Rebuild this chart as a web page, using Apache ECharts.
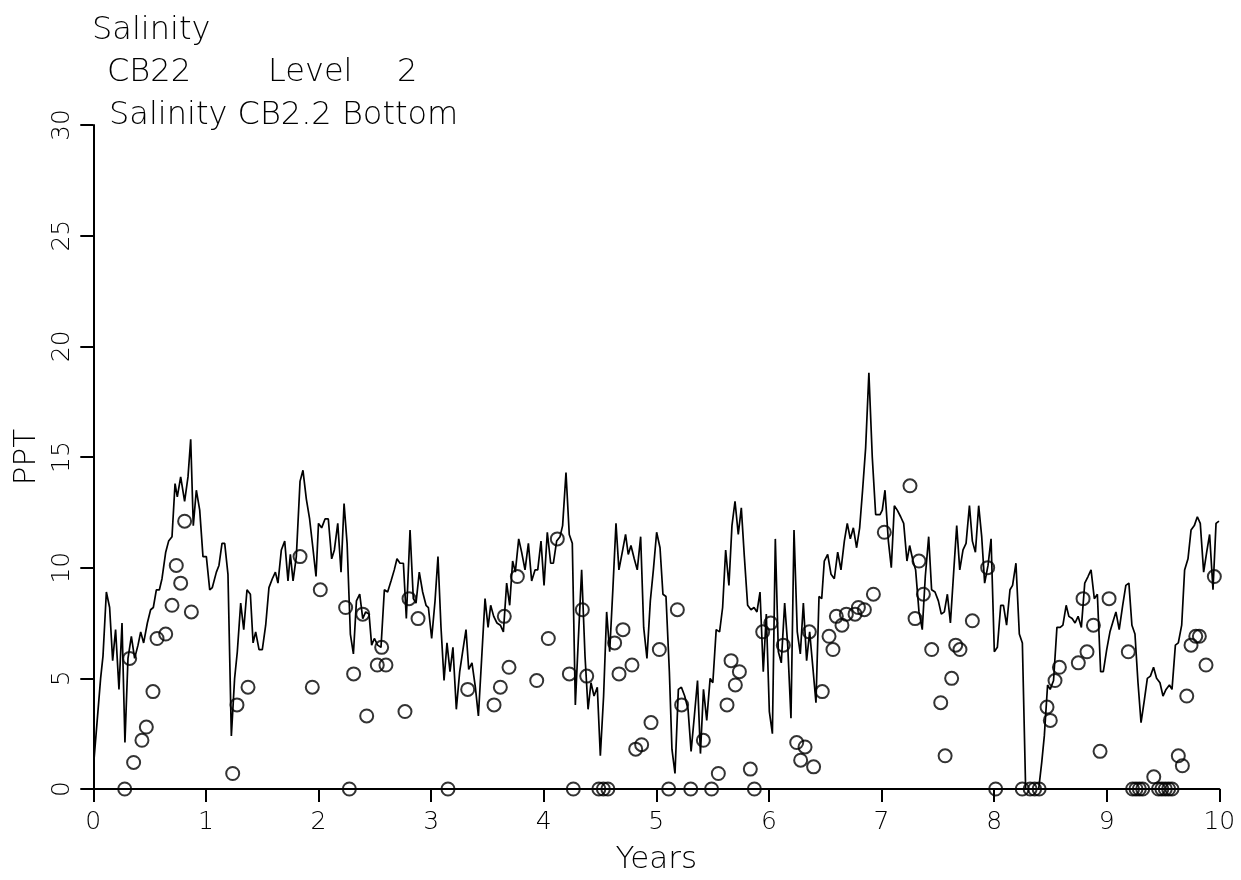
<!DOCTYPE html>
<html>
<head>
<meta charset="utf-8">
<script src="https://cdn.jsdelivr.net/npm/echarts@6/dist/echarts.min.js"></script>
<style>
html,body{margin:0;padding:0;background:#fff;}
#chart{width:1241px;height:880px;}
</style>
</head>
<body>
<div id="chart"></div>
<script>
// Title lines
const titleLine1 = 'Salinity';
const titleStation = 'CB22';
const titleLevelWord = 'Level';
const titleLevelNum = '2';
const titleLine3 = 'Salinity CB2.2 Bottom';
const xName = 'Years';
const yName = 'PPT';

// Model line (time in years, salinity PPT)
const lineT = [0.006,0.065,0.086,0.116,0.145,0.172,0.198,0.228,0.255,0.281,0.308,0.338,0.367,0.397,0.421,0.447,0.480,0.509,0.533,0.560,0.587,0.610,0.643,0.669,0.699,0.726,0.746,0.776,0.811,0.841,0.865,0.888,0.915,0.945,0.974,
1.004,1.034,1.057,1.093,1.116,1.143,1.167,1.196,1.226,1.255,1.279,1.309,1.336,1.365,1.395,1.419,1.442,1.472,1.501,1.531,1.560,1.590,1.617,1.640,1.670,1.700,1.729,1.750,1.774,1.803,1.836,1.862,1.892,1.921,1.950,1.978,
2.000,2.028,2.058,2.087,2.117,2.141,2.171,2.200,2.227,2.254,2.283,2.310,2.337,2.366,2.393,2.419,2.449,2.472,2.496,2.525,2.555,2.585,2.614,2.644,2.673,2.697,2.724,2.754,2.780,2.813,2.842,2.866,2.895,2.925,2.955,2.976,
3.005,3.035,3.061,3.088,3.115,3.141,3.168,3.194,3.224,3.254,3.283,3.310,3.334,3.363,3.393,3.420,3.449,3.479,3.506,3.529,3.556,3.585,3.615,3.642,3.671,3.698,3.724,3.748,3.778,3.804,3.834,3.864,3.893,3.923,3.947,3.976,
4.003,4.032,4.062,4.086,4.115,4.145,4.168,4.198,4.227,4.254,4.281,4.307,4.337,4.367,4.394,4.420,4.447,4.476,4.503,4.532,4.559,4.586,4.615,4.642,4.668,4.698,4.727,4.751,4.775,4.804,4.831,4.861,4.888,4.917,4.947,4.974,
5.003,5.033,5.059,5.086,5.116,5.139,5.166,5.196,5.223,5.252,5.282,5.309,5.338,5.366,5.392,5.419,5.448,5.478,5.502,5.532,5.562,5.589,5.616,5.645,5.672,5.699,5.728,5.755,5.782,5.811,5.841,5.868,5.894,5.921,5.950,5.977,
6.004,6.031,6.057,6.084,6.110,6.140,6.167,6.196,6.223,6.252,6.279,6.306,6.335,6.362,6.392,6.418,6.445,6.469,6.492,6.522,6.552,6.581,6.611,6.640,6.670,6.696,6.723,6.750,6.779,6.806,6.832,6.859,6.888,6.918,6.948,6.987,
7.007,7.031,7.061,7.087,7.114,7.140,7.170,7.197,7.226,7.250,7.280,7.303,7.333,7.362,7.389,7.419,7.445,7.475,7.505,7.531,7.558,7.585,7.612,7.641,7.668,7.695,7.724,7.751,7.781,7.807,7.834,7.863,7.890,7.916,7.946,7.973,
8.002,8.029,8.059,8.083,8.111,8.141,8.164,8.194,8.224,8.251,8.280,8.310,8.339,8.369,8.396,8.423,8.446,8.475,8.498,8.528,8.558,8.587,8.611,8.640,8.664,8.693,8.719,8.746,8.775,8.805,8.834,8.861,8.890,8.917,8.946,8.970,
9.000,9.029,9.058,9.082,9.111,9.142,9.170,9.197,9.224,9.251,9.278,9.305,9.334,9.361,9.388,9.416,9.443,9.473,9.500,9.527,9.557,9.580,9.610,9.636,9.666,9.692,9.722,9.749,9.778,9.805,9.831,9.861,9.888,9.914,9.944,9.971,9.997];
const lineV = [1.3,5.0,6.0,8.9,8.2,5.8,7.2,4.5,7.5,2.1,5.9,6.9,5.9,6.5,7.1,6.6,7.5,8.1,8.2,9.0,9.0,9.5,10.7,11.2,11.4,13.8,13.2,14.1,13.0,14.1,15.8,11.9,13.5,12.6,10.5,
10.5,9.0,9.1,9.8,10.1,11.1,11.1,9.7,2.4,5.0,6.2,8.4,7.2,9.0,8.8,6.6,7.1,6.3,6.3,7.4,9.1,9.5,9.8,9.3,10.8,11.2,9.4,10.6,9.4,10.5,13.9,14.4,13.1,12.2,10.9,9.6,
12.0,11.8,12.2,12.2,10.4,10.8,12.0,9.8,12.9,11.1,7.0,6.1,8.5,8.8,7.7,8.0,7.9,6.5,6.8,6.5,6.4,9.0,8.9,9.4,9.9,10.4,10.2,10.2,7.7,11.7,8.6,8.4,9.8,8.9,8.3,8.2,
6.8,8.5,10.5,7.3,4.9,6.6,5.3,6.4,3.6,5.3,6.3,7.2,5.4,5.7,4.6,3.3,5.9,8.6,7.3,8.3,7.8,7.5,7.4,7.1,9.3,8.3,10.3,9.8,11.3,10.7,9.9,11.1,9.4,9.9,9.9,11.2,
9.2,11.6,10.2,10.2,11.2,11.4,11.9,14.3,11.5,11.1,3.8,6.7,9.9,6.0,3.6,4.8,4.2,4.6,1.5,4.2,8.0,6.2,9.1,12.0,9.9,10.7,11.5,10.6,11.0,10.4,9.9,11.4,7.3,5.9,8.5,9.9,
11.6,10.9,8.8,8.7,5.3,1.8,0.7,4.5,4.6,4.2,3.6,1.7,3.3,4.9,1.6,4.5,3.1,5.0,4.8,7.2,7.1,8.2,10.8,9.2,11.9,13.0,11.5,12.7,10.5,8.3,8.1,8.2,8.0,8.9,5.3,7.9,
3.5,2.5,11.3,6.2,5.7,8.4,6.5,3.2,11.7,7.1,6.1,8.4,5.8,7.1,5.4,3.9,8.7,8.6,10.3,10.6,9.7,9.5,10.7,9.9,11.2,12.0,11.3,11.8,10.9,11.8,13.5,15.4,18.8,15.0,12.4,12.4,
12.6,13.5,11.2,10.0,12.8,12.6,12.3,12.0,10.3,11.0,10.3,9.9,8.0,7.2,9.6,11.4,9.0,8.9,8.5,7.9,8.0,8.8,7.5,9.8,11.9,9.9,10.8,11.1,12.8,11.2,10.7,12.8,11.4,9.3,10.1,11.3,
6.2,6.4,8.3,8.3,7.4,9.0,9.2,10.2,7.0,6.6,0.0,0.0,0.0,0.0,0.0,1.2,2.4,4.7,4.5,4.9,7.3,7.3,7.4,8.3,7.8,7.7,7.5,7.8,7.3,9.3,9.6,9.9,8.6,8.8,5.3,5.3,
6.3,7.1,7.6,8.0,7.2,8.3,9.2,9.3,7.4,7.0,4.8,3.0,4.0,5.0,5.1,5.5,5.0,4.8,4.2,4.5,4.7,4.5,6.5,6.6,7.4,9.9,10.4,11.7,11.9,12.3,12.0,9.8,10.7,11.5,9.0,12.0,12.1];

// Observations (time in years, salinity PPT)
const obsT = [0.279,0.323,0.358,0.432,0.471,0.530,0.566,0.643,0.699,0.737,0.776,0.811,0.871,1.238,1.276,1.374,1.836,1.945,
2.016,2.241,2.274,2.312,2.393,2.428,2.522,2.561,2.599,2.768,2.804,2.884,3.150,3.325,3.559,3.615,3.650,3.692,3.766,3.938,
4.041,4.121,4.228,4.263,4.343,4.382,4.49,4.53,4.57,4.630,4.669,4.704,4.784,4.817,4.870,4.953,
5.027,5.110,5.187,5.225,5.306,5.418,5.491,5.551,5.628,5.664,5.702,5.738,5.835,5.871,5.945,
6.017,6.128,6.247,6.282,6.321,6.359,6.397,6.474,6.534,6.569,6.599,6.649,6.688,6.765,6.795,6.848,6.928,
7.025,7.253,7.298,7.333,7.372,7.446,7.526,7.565,7.623,7.659,7.697,7.807,7.943,
8.014,8.25,8.32,8.36,8.40,8.470,8.499,8.541,8.580,8.748,8.790,8.825,8.882,8.941,
9.021,9.192,9.23,9.26,9.29,9.32,9.418,9.46,9.49,9.52,9.55,9.58,9.636,9.672,9.711,9.749,9.791,9.823,9.882,9.956];
const obsV = [0.0,5.9,1.2,2.2,2.8,4.4,6.8,7.0,8.3,10.1,9.3,12.1,8.0,0.7,3.8,4.6,10.5,4.6,
9.0,8.2,0.0,5.2,7.9,3.3,5.6,6.4,5.6,3.5,8.6,7.7,0.0,4.5,3.8,4.6,7.8,5.5,9.6,4.9,
6.8,11.3,5.2,0.0,8.1,5.1,0.0,0.0,0.0,6.6,5.2,7.2,5.6,1.8,2.0,3.0,
6.3,0.0,8.1,3.8,0.0,2.2,0.0,0.7,3.8,5.8,4.7,5.3,0.9,0.0,7.1,
7.5,6.5,2.1,1.3,1.9,7.1,1.0,4.4,6.9,6.3,7.8,7.4,7.9,7.9,8.2,8.1,8.8,
11.6,13.7,7.7,10.3,8.8,6.3,3.9,1.5,5.0,6.5,6.3,7.6,10.0,
0.0,0.0,0.0,0.0,0.0,3.7,3.1,4.9,5.5,5.7,8.6,6.2,7.4,1.7,
8.6,6.2,0.0,0.0,0.0,0.0,0.55,0.0,0.0,0.0,0.0,0.0,1.5,1.05,4.2,6.5,6.9,6.9,5.6,9.6];

const lineData = lineT.map((t, i) => [t, lineV[i]]);
const obsData = obsT.map((t, i) => [t, obsV[i]]);

const FONT = 'DejaVu Sans';
const txt = (size) => ({ color: '#000', fontFamily: FONT, fontSize: size, fontWeight: 200, lineHeight: size });

const chart = echarts.init(document.getElementById('chart'), null, { renderer: 'canvas' });
chart.setOption({
  animation: false,
  backgroundColor: '#fff',
  title: [
    { text: titleLine1, left: 92, top: 15, padding: 0, textStyle: txt(32) },
    { text: titleStation, left: 107, top: 57, padding: 0, textStyle: txt(32) },
    { text: titleLevelWord, left: 268, top: 57, padding: 0, textStyle: txt(32) },
    { text: titleLevelNum, left: 397, top: 57, padding: 0, textStyle: txt(32) },
    { text: titleLine3, left: 109, top: 100, padding: 0, textStyle: txt(32) }
  ],
  grid: { left: 93.3, right: 21.7, top: 125, bottom: 89.3, containLabel: false },
  xAxis: {
    type: 'value', min: 0, max: 10, interval: 1,
    name: xName, nameLocation: 'middle', nameGap: 55,
    nameTextStyle: txt(31),
    axisLine: { show: true, onZero: false, lineStyle: { color: '#000', width: 2 } },
    axisTick: { show: true, inside: false, length: 13, lineStyle: { color: '#000', width: 2 } },
    axisLabel: { margin: 21, color: '#000', fontFamily: FONT, fontWeight: 200, fontSize: 25 },
    splitLine: { show: false }
  },
  yAxis: {
    type: 'value', min: 0, max: 30, interval: 5,
    name: yName, nameLocation: 'middle', nameGap: 50,
    nameTextStyle: txt(31),
    axisLine: { show: true, onZero: false, lineStyle: { color: '#000', width: 2 } },
    axisTick: { show: true, inside: false, length: 13, lineStyle: { color: '#000', width: 2 } },
    axisLabel: { rotate: 90, margin: 18, color: '#000', fontFamily: FONT, fontWeight: 200, fontSize: 25 },
    splitLine: { show: false }
  },
  series: [
    {
      type: 'line', data: lineData, showSymbol: false, symbol: 'none',
      lineStyle: { color: '#000', width: 1.7 }, z: 2, clip: false
    },
    {
      type: 'scatter', data: obsData, symbol: 'circle', symbolSize: 13,
      itemStyle: { color: 'rgba(0,0,0,0)', borderColor: '#000', borderWidth: 2 }, z: 3, clip: false
    }
  ]
});
</script>
</body>
</html>
